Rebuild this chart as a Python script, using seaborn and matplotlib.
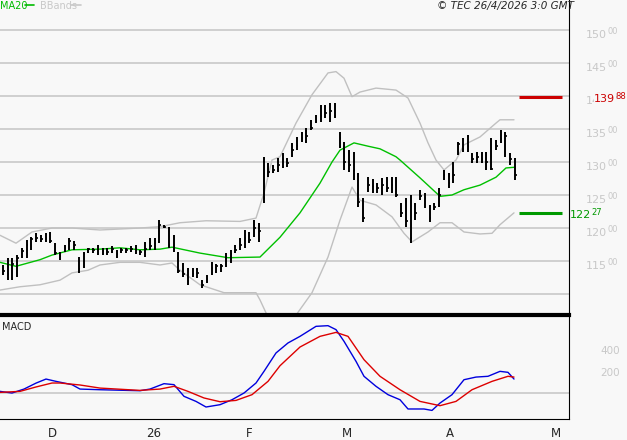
import numpy as np
import pandas as pd
import matplotlib
matplotlib.use("Agg")
import matplotlib.pyplot as plt
import matplotlib.transforms as mtransforms
import seaborn as sns

# daily bars (price)
highs = [114.4, 115.5, 115.5, 115.9, 117.0, 118.2, 118.6, 119.2, 118.9, 119.2, 119.4, 117.7, 116.4, 117.4, 118.5,
         118.0, 115.6, 116.4, 117.0, 117.0, 117.4, 117.0, 117.0, 117.2, 116.7, 117.0, 117.0, 117.2, 117.4,
         116.7, 117.9, 118.5, 118.5, 121.2, 120.5, 120.2, 119.0, 116.4, 114.7, 113.9, 114.0, 113.9, 112.1, 112.9,
         114.8, 114.5, 114.6, 116.2, 116.7, 117.4, 118.5, 119.7, 119.4, 121.2, 120.8, 130.8, 129.8, 129.5,
         130.6, 131.4, 130.6, 132.9, 133.8, 134.5, 135.2, 136.4, 137.1, 138.6, 138.6, 138.9, 138.9, 134.5, 133.0,
         131.8, 131.5, 128.3, 124.5, 127.7, 127.5, 126.8, 127.6, 127.7, 127.7, 127.7,
         123.8, 124.5, 125.0, 123.8, 125.8, 125.3, 123.5, 123.8, 126.0, 128.8, 128.3, 130.0, 133.0, 133.6, 134.1,
         131.4, 131.5, 131.5, 131.5, 133.6, 133.3, 134.8, 134.5, 131.4, 130.6]
lows = [112.9, 112.1, 112.1, 112.6, 115.5, 115.5, 116.7, 117.9, 117.9, 117.9, 117.7, 115.9, 115.2, 116.4, 116.7,
        116.7, 113.2, 113.9, 116.2, 116.2, 115.9, 115.9, 115.9, 116.2, 115.5, 116.2, 116.2, 116.4, 116.0,
        115.9, 115.6, 116.7, 116.7, 117.7, 120.0, 117.0, 116.3, 113.2, 112.6, 111.4, 112.6, 112.4, 110.9, 111.7,
        112.9, 113.2, 113.4, 114.1, 114.7, 116.2, 116.7, 117.0, 117.7, 118.6, 117.9, 123.8, 127.7, 128.3,
        128.5, 129.1, 129.2, 130.8, 131.8, 133.0, 132.9, 134.8, 135.9, 136.1, 136.7, 136.1, 136.7, 132.1, 128.8,
        128.5, 127.3, 123.2, 120.9, 125.5, 125.3, 125.3, 125.0, 125.5, 125.3, 124.7,
        121.7, 120.2, 117.7, 121.2, 124.2, 123.0, 120.9, 122.7, 123.2, 127.3, 126.0, 126.8, 131.1, 131.5, 131.5,
        129.8, 129.8, 129.8, 128.8, 128.8, 131.8, 132.9, 130.8, 129.5, 127.3]
closes = [113.5, 113.0, 114.5, 115.5, 116.5, 117.5, 118.3, 118.5, 118.3, 118.5, 118.0, 116.2, 115.8, 117.0, 118.0,
          117.5, 113.8, 116.0, 116.8, 116.6, 116.8, 116.5, 116.4, 116.8, 116.0, 116.6, 116.7, 116.8, 116.6,
          116.3, 116.8, 117.3, 117.8, 120.5, 120.2, 117.5, 116.8, 113.5, 113.0, 112.0, 113.0, 113.2, 111.3, 112.3,
          114.0, 114.2, 114.3, 115.5, 116.0, 116.6, 117.5, 118.5, 118.2, 120.0, 119.5, 124.5, 128.5, 128.8,
          129.5, 130.5, 129.8, 131.8, 132.5, 133.6, 134.0, 135.2, 136.2, 137.0, 137.5, 137.8, 137.0, 133.6, 130.0,
          129.5, 128.8, 124.0, 121.5, 126.5, 126.3, 126.0, 126.5, 126.0, 126.5, 125.0,
          122.3, 121.0, 118.5, 122.2, 124.8, 124.5, 121.5, 123.2, 125.0, 128.0, 126.8, 128.0, 132.8, 132.0, 132.5,
          130.5, 130.8, 130.5, 130.0, 129.0, 132.5, 133.5, 134.0, 130.5, 128.0]

# MA20 and Bollinger bands, read at horizontal chart positions
ma_x = [0, 16, 40, 52, 72, 100, 120, 140, 160, 172, 200, 228, 260, 280, 300, 320, 332, 340, 354, 368, 380, 396,
        400, 420, 440, 452, 464, 480, 496, 506, 514]
ma_y = [114.8, 114.2, 115.2, 115.9, 116.7, 116.8, 117.0, 116.7, 116.8, 117.1, 116.2, 115.5, 115.6, 118.6, 122.3,
        126.8, 130.0, 131.8, 132.9, 132.4, 132.0, 130.8, 130.3, 127.6, 124.8, 125.0, 125.8, 126.5, 127.7, 129.1, 129.2]
up_x = [0, 16, 32, 52, 72, 100, 140, 160, 180, 206, 240, 256, 264, 272, 280, 296, 312, 328, 336, 344, 352, 360,
        376, 396, 408, 420, 428, 436, 444, 456, 464, 480, 496, 500, 514]
up_y = [118.9, 117.7, 119.4, 120.0, 120.0, 119.7, 120.0, 120.2, 120.8, 121.1, 121.0, 121.5, 125.3, 130.3, 130.8,
        135.9, 140.2, 143.5, 143.7, 142.7, 139.9, 140.6, 141.2, 140.9, 139.7, 135.9, 132.9, 130.3, 128.8, 130.3,
        132.6, 133.8, 135.9, 136.4, 136.4]
lo_x = [0, 20, 40, 60, 72, 88, 100, 120, 140, 160, 172, 180, 200, 224, 256, 260, 268, 296, 312, 328, 340, 352,
        360, 376, 392, 404, 412, 428, 440, 452, 464, 480, 492, 500, 514]
lo_y = [110.6, 111.1, 111.4, 112.1, 113.2, 113.6, 114.4, 114.8, 114.8, 114.4, 114.7, 113.6, 111.4, 110.2, 110.2,
        109.1, 106.5, 106.8, 110.2, 115.6, 121.2, 126.2, 124.2, 123.5, 121.7, 119.2, 117.9, 119.4, 120.8, 120.8,
        119.4, 119.1, 119.2, 120.5, 122.3]

# MACD and signal
macd_x = [0, 12, 24, 36, 46, 56, 72, 80, 100, 140, 150, 164, 174, 184, 196, 206, 220, 232, 244, 256, 264, 276,
          288, 300, 316, 328, 336, 344, 356, 364, 376, 388, 400, 408, 424, 432, 440, 452, 464, 476, 488, 500,
          508, 514]
macd_y = [15, 0, 36, 90, 127, 106, 76, 36, 30, 21, 36, 85, 76, -30, -76, -127, -106, -61, 0, 91, 197, 364, 455,
          515, 606, 612, 576, 470, 288, 152, 61, -15, -61, -145, -145, -158, -91, -15, 121, 145, 152, 197, 188, 127]
sig_x = [0, 20, 36, 52, 60, 80, 100, 140, 160, 174, 188, 204, 220, 236, 252, 268, 280, 300, 320, 336, 348, 364,
         380, 400, 420, 440, 456, 472, 492, 508, 514]
sig_y = [6, 15, 55, 91, 91, 73, 45, 24, 36, 61, 15, -45, -79, -67, -15, 106, 248, 418, 515, 551, 515, 303, 152,
         30, -76, -115, -76, 30, 106, 152, 145]

price_levels = [110, 115, 120, 125, 130, 135, 140, 145, 150]
month_pos = [46, 145, 244, 340, 444, 549]
month_lbl = ["D", "26", "F", "M", "A", "M"]
last_hi, last_lo = 139.88, 122.27

sns.set_style("white")
plt.rcParams["font.family"] = ["DejaVu Sans"]
BG = "#f8f8f8"
GRID = "#c8c8c8"
W = 569.0  # axes width in pixels

fig = plt.figure(figsize=(6.27, 4.40), dpi=100, facecolor=BG)
ax = fig.add_axes([0, 1 - 315 / 440, W / 627, 315 / 440], facecolor=BG)
ax2 = fig.add_axes([0, 1 - 419 / 440, W / 627, 104 / 440], facecolor=BG)

bar_x = 3 + 4.74 * np.arange(len(highs))
for lvl in price_levels:
    ax.axhline(lvl, color=GRID, lw=1.2, zorder=0)

sns.lineplot(x=up_x, y=up_y, ax=ax, color="#c0c0c0", lw=1)
sns.lineplot(x=lo_x, y=lo_y, ax=ax, color="#c0c0c0", lw=1)
sns.lineplot(x=ma_x, y=ma_y, ax=ax, color="#00c000", lw=1)
ax.vlines(bar_x, lows, highs, color="black", lw=1.4)
ax.hlines(closes, bar_x, bar_x + 1.6, color="black", lw=1.2)

ax.hlines([last_hi], 519, 562, color="#cc0000", lw=2.2)
ax.hlines([last_lo], 519, 562, color="#009900", lw=2.2)

ax.set_xlim(0, W)
ax.set_ylim(106.82, 154.55)
ax.set_xticks([])
ax.set_yticks([])
for s in ["top", "left", "bottom"]:
    ax.spines[s].set_visible(False)
ax.spines["right"].set_color("black")

tr = mtransforms.blended_transform_factory(ax.transAxes, ax.transData)
for lvl in price_levels[1:]:
    ax.text(586 / W, lvl - 0.7, f"{lvl}", transform=tr, color=GRID, fontsize=8, va="center", ha="left",
            clip_on=False, zorder=1)
    ax.text(607 / W, lvl - 0.2, "00", transform=tr, color=GRID, fontsize=6, va="center", ha="left",
            clip_on=False, zorder=1)
ax.text(594 / W, last_hi - 0.3, "139", transform=tr, color="#cc0000", fontsize=8, va="center", clip_on=False,
        zorder=3, bbox=dict(facecolor=BG, edgecolor="none", pad=0.3))
ax.text(615 / W, last_hi + 0.1, "88", transform=tr, color="#cc0000", fontsize=6, va="center", clip_on=False,
        zorder=3)
ax.text(570 / W, last_lo - 0.3, "122", transform=tr, color="#009900", fontsize=8, va="center", clip_on=False)
ax.text(591 / W, last_lo + 0.1, "27", transform=tr, color="#009900", fontsize=6, va="center", clip_on=False)

ax.text(0.0, 0.997, "MA20", transform=ax.transAxes, color="#00bb00", fontsize=7, va="top")
ax.plot([25 / W, 34 / W], [0.985, 0.985], transform=ax.transAxes, color="#00bb00", lw=1.2)
ax.text(40 / W, 0.997, "BBands", transform=ax.transAxes, color="#c8c8c8", fontsize=7, va="top")
ax.plot([71 / W, 81 / W], [0.985, 0.985], transform=ax.transAxes, color="#c8c8c8", lw=1.2)
ax.text(574 / W, 0.998, "© TEC 26/4/2026 3:0 GMT", transform=ax.transAxes, fontsize=7.5, va="top",
        ha="right", style="italic", clip_on=False)

# MACD panel
ax2.axhline(0, color=GRID, lw=1.2, zorder=0)
sns.lineplot(x=macd_x, y=macd_y, ax=ax2, color="#0000dd", lw=1)
sns.lineplot(x=sig_x, y=sig_y, ax=ax2, color="#dd0000", lw=1)
ax2.set_xlim(0, W)
ax2.set_ylim(-236, 709)
ax2.set_yticks([])
ax2.spines["left"].set_visible(False)
ax2.spines["top"].set_linewidth(3)
for s in ["top", "right", "bottom"]:
    ax2.spines[s].set_color("black")
ax2.set_xticks(month_pos)
ax2.set_xticklabels([])
ax2.tick_params(axis="x", direction="out", length=13, width=1, color="black")
trb = mtransforms.blended_transform_factory(ax2.transData, ax2.transAxes)
for p, lbl in zip(month_pos, month_lbl):
    ax2.text(p + 1.5, -0.2, lbl, transform=trb, fontsize=8.5, va="bottom", ha="left", clip_on=False)
tr2 = mtransforms.blended_transform_factory(ax2.transAxes, ax2.transData)
for v in [200, 400]:
    ax2.text(600 / W, v - 20, str(v), transform=tr2, color=GRID, fontsize=7.5, va="center", clip_on=False)
ax2.text(0.004, 0.93, "MACD", transform=ax2.transAxes, fontsize=7, va="top")

fig.savefig("out.png", dpi=100, facecolor=BG)
